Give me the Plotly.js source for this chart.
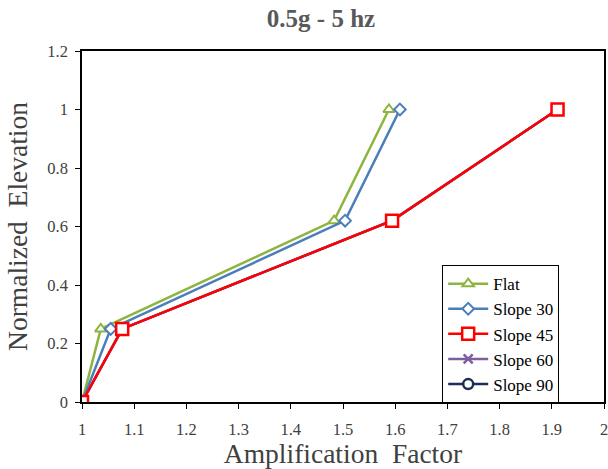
<!DOCTYPE html>
<html><head><meta charset="utf-8">
<script src="https://cdn.plot.ly/plotly-3.0.1.min.js"></script>
<style>body{margin:0;background:#fff}#chart{width:608px;height:469px}</style>
</head><body><div id="chart"></div>
<script>
const seriesNames = ["Flat", "Slope 30", "Slope 45", "Slope 60", "Slope 90"];
const flatX = [1, 1.036, 1.483, 1.588];
const flatY = [0, 0.25, 0.62, 1.0];
const slope30X = [1, 1.055, 1.504, 1.609];
const slope30Y = [0, 0.25, 0.62, 1.0];
const slope45X = [1, 1.077, 1.594, 1.911];
const slope45Y = [0, 0.25, 0.62, 1.0];
// Slope 60 and Slope 90 are hidden beneath Slope 45 in the reference
const slope60X = [1, 1.077, 1.594, 1.911];
const slope60Y = [0, 0.25, 0.62, 1.0];
const slope90X = [1, 1.077, 1.594, 1.911];
const slope90Y = [0, 0.25, 0.62, 1.0];
const xTicks = [1, 1.1, 1.2, 1.3, 1.4, 1.5, 1.6, 1.7, 1.8, 1.9, 2];
const yTicks = [0, 0.2, 0.4, 0.6, 0.8, 1, 1.2];

const serif = "'Liberation Serif', 'Times New Roman', serif";
function tr(name, x, y, color, symbol, size, lw, rank) {
  return {x: x, y: y, name: name, type: "scatter", mode: "lines+markers", legendrank: rank,
    line: {color: color, width: 2.5},
    marker: {symbol: symbol, size: size, color: "#ffffff", line: {color: color, width: lw}}};
}
const data = [
  tr(seriesNames[4], slope90X, slope90Y, "#1B2F55", "circle", 10, 2.5, 5),
  tr(seriesNames[3], slope60X, slope60Y, "#7D5FA0", "x-thin", 9, 2.5, 4),
  tr(seriesNames[0], flatX, flatY, "#8DB43E", "triangle-up", 10, 2, 1),
  tr(seriesNames[1], slope30X, slope30Y, "#4A7EBB", "diamond", 9, 2, 2),
  tr(seriesNames[2], slope45X, slope45Y, "#FF0000", "square", 12, 2.5, 3)
];
const layout = {
  width: 608, height: 469,
  margin: {l: 82, r: 4, t: 51, b: 67},
  paper_bgcolor: "#fff", plot_bgcolor: "#fff",
  title: {text: "<b>0.5g - 5 hz</b>", font: {family: serif, size: 25, color: "#595959"}, x: 0.528, xanchor: "center", y: 0.962, yanchor: "middle"},
  xaxis: {range: [1, 2], tickvals: xTicks, ticktext: xTicks.map(String), showgrid: false, zeroline: false,
    showline: true, linecolor: "#000", linewidth: 1.5, mirror: true, ticks: "outside", ticklen: 5, tickcolor: "#000",
    ticklabelstandoff: 6, ticklabeloverflow: "allow",
    tickfont: {family: serif, size: 16.5, color: "#404040"},
    title: {text: "Amplification  Factor", font: {family: serif, size: 27.5, color: "#404040"}, standoff: 5}},
  yaxis: {range: [0, 1.2], tickvals: yTicks, ticktext: yTicks.map(String), showgrid: false, zeroline: false,
    showline: true, linecolor: "#000", linewidth: 1.5, mirror: true, ticks: "outside", ticklen: 5, tickcolor: "#000",
    ticklabelstandoff: 4, ticklabeloverflow: "allow",
    tickfont: {family: serif, size: 16.5, color: "#404040"},
    title: {text: "Normalized  Elevation", font: {family: serif, size: 27.5, color: "#404040"}, standoff: 12}},
  legend: {x: 0.69, y: 0.39, xanchor: "left", yanchor: "top", bordercolor: "#000", borderwidth: 1,
    bgcolor: "#fff", font: {family: serif, size: 17, color: "#000"}, tracegroupgap: 0, itemwidth: 40},
  showlegend: true
};
Plotly.newPlot("chart", data, layout, {displayModeBar: false});
</script></body></html>
